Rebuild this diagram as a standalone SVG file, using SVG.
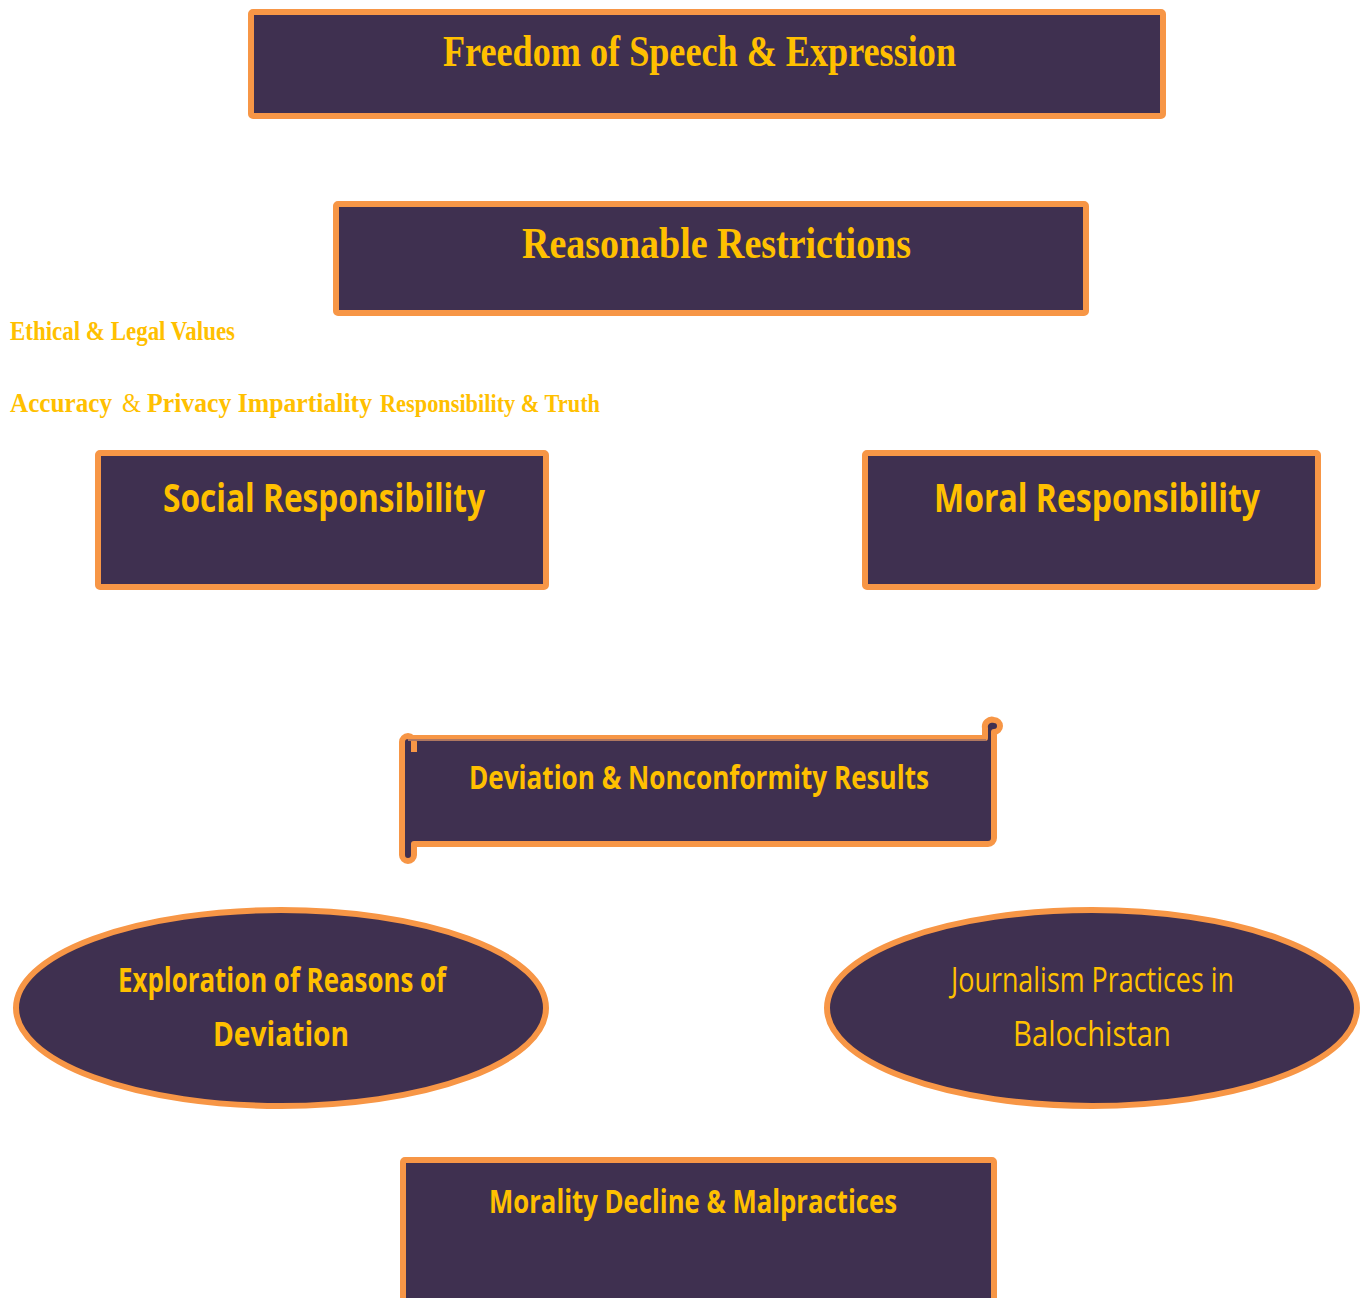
<svg xmlns="http://www.w3.org/2000/svg" width="1364" height="1298" viewBox="0 0 1364 1298">
<style>
.box{fill:#3f3050;stroke:#f79646;stroke-width:6;stroke-linejoin:round}
.serif{font-family:"Liberation Serif","Times New Roman",serif;font-weight:bold;fill:#ffc000}
.sans{font-family:"Open Sans","Liberation Sans",sans-serif;font-weight:bold;fill:#ffc000}
.reg{font-weight:normal}
</style>
<rect width="1364" height="1298" fill="#ffffff"/>
<g id="freedom">
<rect class="box" x="251" y="12" width="912" height="104" rx="2"/>
<text class="serif" x="443" y="66" font-size="45" textLength="513" lengthAdjust="spacingAndGlyphs">Freedom of Speech &amp; Expression</text>
</g>
<g id="restrictions">
<rect class="box" x="336" y="204" width="750" height="109" rx="2"/>
<text class="serif" x="522" y="258" font-size="45" textLength="389" lengthAdjust="spacingAndGlyphs">Reasonable  Restrictions</text>
</g>
<g id="ethical">
<text class="serif" x="10" y="340" font-size="27" textLength="225" lengthAdjust="spacingAndGlyphs">Ethical &amp; Legal Values</text>
</g>
<g id="values">
<text class="serif" x="10" y="412" font-size="28"><tspan textLength="102" lengthAdjust="spacingAndGlyphs">Accuracy</tspan><tspan class="reg" dx="10" textLength="19" lengthAdjust="spacingAndGlyphs">&amp;</tspan><tspan dx="6" textLength="225" lengthAdjust="spacingAndGlyphs">Privacy Impartiality</tspan><tspan dx="8" font-size="26" textLength="220" lengthAdjust="spacingAndGlyphs">Responsibility &amp; Truth</tspan></text>
</g>
<g id="social">
<rect class="box" x="98" y="453" width="448" height="134" rx="2"/>
<text class="sans" x="163" y="512" font-size="39" textLength="322" lengthAdjust="spacingAndGlyphs">Social Responsibility</text>
</g>
<g id="moral">
<rect class="box" x="865" y="453" width="453" height="134" rx="2"/>
<text class="sans" x="934" y="512" font-size="39" textLength="326" lengthAdjust="spacingAndGlyphs">Moral Responsibility</text>
</g>
<g id="deviation">
<path class="box" d="M408 738 H985 V728 a7 7 0 0 1 9 -8 a4 4 0 0 1 0 12 V838 a6 6 0 0 1 -6 6 H414 V855 a6 6 0 0 1 -12 0 V742 a6 6 0 0 1 12 0 V752 H414"/>
<path d="M408 740 H986" fill="none" stroke="#6a5a7a" stroke-width="1"/>
<text class="sans" x="469" y="789" font-size="32" textLength="460" lengthAdjust="spacingAndGlyphs">Deviation  &amp;  Nonconformity  Results</text>
</g>
<g id="exploration">
<ellipse class="box" cx="281" cy="1008" rx="265" ry="98"/>
<text class="sans" x="118" y="992" font-size="34" textLength="328" lengthAdjust="spacingAndGlyphs">Exploration of Reasons of</text>
<text class="sans" x="213" y="1046" font-size="34" textLength="136" lengthAdjust="spacingAndGlyphs">Deviation</text>
</g>
<g id="journalism">
<ellipse class="box" cx="1092" cy="1008" rx="265" ry="98"/>
<text class="sans reg" x="951" y="992" font-size="34" textLength="283" lengthAdjust="spacingAndGlyphs">Journalism Practices in</text>
<text class="sans reg" x="1013" y="1046" font-size="34" textLength="158" lengthAdjust="spacingAndGlyphs">Balochistan</text>
</g>
<g id="morality">
<rect class="box" x="403" y="1160" width="591" height="150" rx="2"/>
<text class="sans" x="489" y="1213" font-size="33" textLength="408" lengthAdjust="spacingAndGlyphs">Morality Decline &amp; Malpractices</text>
</g>
<g id="connectors"></g>
</svg>
